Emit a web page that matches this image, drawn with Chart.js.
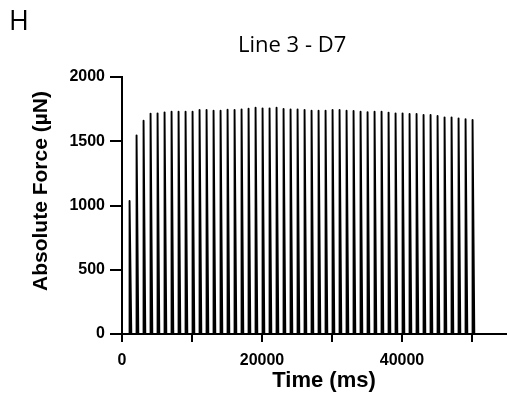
<!DOCTYPE html>
<html>
<head>
<meta charset="utf-8">
<script src="https://cdn.jsdelivr.net/npm/chart.js@4"></script>
<style>
  body { margin: 0; background: #fff; }
  #wrap { position: relative; width: 507px; height: 393px; overflow: hidden; }
  #panel { position: absolute; left: 9px; top: 6px; font: 27px "Open Sans", sans-serif; color: #000; line-height: 1; }
  #title { position: absolute; left: 238px; top: 32px; font: 22px "Open Sans", sans-serif; color: #000; line-height: 1; white-space: nowrap; }
  canvas { position: absolute; left: 0; top: 0; }
</style>
</head>
<body>
<div id="wrap">
  <canvas id="chart" width="507" height="393"></canvas>
  <div id="panel">H</div>
  <div id="title">Line 3 - D7</div>
</div>
<script>
// twitch onset times (ms) and peak force (µN)
const twitchTimes = [
  1000, 2000, 3000, 4000, 5000, 6000, 7000, 8000, 9000, 10000,
  11000, 12000, 13000, 14000, 15000, 16000, 17000, 18000, 19000, 20000,
  21000, 22000, 23000, 24000, 25000, 26000, 27000, 28000, 29000, 30000,
  31000, 32000, 33000, 34000, 35000, 36000, 37000, 38000, 39000, 40000,
  41000, 42000, 43000, 44000, 45000, 46000, 47000, 48000, 49000, 50000
];
const peakForce = [
  1035, 1546, 1660, 1715, 1717, 1725, 1730, 1730, 1730, 1730,
  1743, 1743, 1738, 1738, 1746, 1743, 1748, 1753, 1761, 1756,
  1756, 1761, 1751, 1748, 1748, 1743, 1738, 1738, 1738, 1743,
  1743, 1738, 1735, 1730, 1727, 1730, 1730, 1723, 1717, 1717,
  1712, 1712, 1704, 1704, 1696, 1686, 1686, 1678, 1671, 1665
];
const xTicks = [0, 10000, 20000, 30000, 40000, 50000];
const xLabelled = [0, 20000, 40000];
const yTicks = [0, 500, 1000, 1500, 2000];

// each twitch: fast rise, quick relaxation back to baseline
const trace = [{ x: 0, y: 0 }];
twitchTimes.forEach((t, i) => {
  trace.push({ x: t, y: 0 });
  trace.push({ x: t + 80, y: peakForce[i] });
  trace.push({ x: t + 330, y: 0 });
});

const axisFont = { family: '"Liberation Sans", Arial, sans-serif', weight: 'bold' };

// axis titles drawn by hand so they sit where the figure has them
const axisTitles = {
  id: 'axisTitles',
  afterDraw(chart) {
    const ctx = chart.ctx;
    ctx.save();
    ctx.fillStyle = '#000';
    ctx.textAlign = 'center';
    ctx.textBaseline = 'middle';
    ctx.font = 'bold 22px "Liberation Sans", Arial, sans-serif';
    ctx.fillText('Time (ms)', 324, 381);
    ctx.translate(41, 191);
    ctx.rotate(-Math.PI / 2);
    ctx.font = 'bold 21px "Liberation Sans", Arial, sans-serif';
    ctx.fillText('Absolute Force (µN)', 0, 0);
    ctx.restore();
  }
};

new Chart(document.getElementById('chart'), {
  type: 'line',
  data: {
    datasets: [{
      data: trace,
      borderColor: '#000',
      borderWidth: 1.9,
      borderJoinStyle: 'round',
      pointRadius: 0,
      tension: 0,
      fill: false
    }]
  },
  options: {
    responsive: false,
    animation: false,
    layout: { padding: { top: 77, right: 0, left: 0, bottom: 0 } },
    plugins: { legend: { display: false }, tooltip: { enabled: false }, title: { display: false } },
    scales: {
      x: {
        type: 'linear',
        min: 0,
        max: 55000,
        afterBuildTicks: s => { s.ticks = xTicks.map(v => ({ value: v })); },
        afterFit: s => { s.height = 59; },
        ticks: {
          maxRotation: 0,
          autoSkip: false,
          color: '#000',
          padding: 9,
          font: { ...axisFont, size: 16 },
          callback: v => xLabelled.includes(v) ? String(v) : ''
        },
        grid: { display: true, drawOnChartArea: false, drawTicks: true, tickLength: 8, color: '#000', lineWidth: 2 },
        border: { display: true, color: '#000', width: 2 }
      },
      y: {
        min: 0,
        max: 2000,
        afterBuildTicks: s => { s.ticks = yTicks.map(v => ({ value: v })); },
        afterFit: s => { s.width = 122; },
        ticks: {
          color: '#000',
          padding: 5,
          font: { ...axisFont, size: 16 },
          callback: v => String(v)
        },
        grid: { display: true, drawOnChartArea: false, drawTicks: true, tickLength: 12, color: '#000', lineWidth: 2 },
        border: { display: true, color: '#000', width: 2 }
      }
    }
  },
  plugins: [axisTitles]
});
</script>
</body>
</html>
